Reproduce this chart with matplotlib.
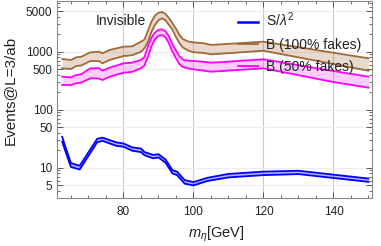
import matplotlib
matplotlib.use("Agg")
import matplotlib.pyplot as plt
from matplotlib.ticker import FixedLocator, NullFormatter, MultipleLocator
from matplotlib.lines import Line2D

plt.rcParams['font.family'] = ['Liberation Sans', 'DejaVu Sans']
plt.rcParams['mathtext.fontset'] = 'custom'
plt.rcParams['mathtext.rm'] = 'Liberation Sans'
plt.rcParams['mathtext.it'] = 'Liberation Sans:italic'

# ---- data ----
sig_x = [62.5, 63.2, 65, 67.5, 72.5, 74, 78, 80, 82.5, 85, 86, 88.5, 90, 92, 94, 95.3,
         97.5, 100, 104, 110, 120, 130, 150]
sig_hi = [34, 25, 12.0, 10.8, 31.5, 33, 27.3, 26.2, 22.4, 21.4, 18.6, 16.6, 17.1, 13.9, 9.05, 8.55,
          6.1, 5.65, 6.7, 7.8, 8.55, 8.85, 6.5]
sig_lo = [28, 21, 10.3, 9.3, 27.5, 29, 23.8, 23.0, 19.6, 18.6, 16.4, 14.5, 15.0, 12.2, 7.95, 7.45,
          5.3, 4.95, 5.9, 6.8, 7.45, 7.75, 5.7]

bkg_x = [62.5, 65, 66.5, 68, 70.5, 73, 74, 76, 80, 82.5, 85, 86, 87, 88, 89, 90, 91, 92, 93,
         94, 95, 96, 97, 98.5, 100, 103, 105, 120, 140, 150]
b100_hi = [750, 720, 800, 820, 975, 1000, 940, 1070, 1220, 1240, 1490, 1620, 2300, 3300, 4200,
           4700, 4850, 4500, 3800, 3100, 2500, 1950, 1650, 1500, 1450, 1400, 1310, 1490, 960, 770]
b100_lo = [518, 504, 566, 580, 692, 690, 631, 720, 843, 870, 1000, 1150, 1500, 2200, 2900,
           3500, 3770, 3500, 2900, 2400, 1800, 1400, 1180, 1050, 980, 950, 900, 1040, 614, 470]
b50_hi = [371, 362, 396, 410, 518, 520, 470, 530, 631, 650, 720, 810, 1250, 1750, 2150,
          2380, 2430, 2250, 1850, 1330, 1050, 830, 730, 700, 692, 673, 646, 740, 465, 371]
b50_lo = [267, 267, 285, 295, 348, 345, 325, 370, 434, 450, 518, 580, 820, 1250, 1650,
          1880, 1940, 1780, 1400, 1000, 770, 610, 545, 515, 498, 470, 452, 518, 300, 240]

x_ticks = [80, 100, 120, 140]
y_ticks = [5, 10, 50, 100, 500, 1000, 5000]
y_ticklabels = ['5', '10', '50', '100', '500', '1000', '5000']

labels = [r'S/$\lambda^2$', 'B (100% fakes)', 'B (50% fakes)']

# ---- style ----
brown = '#A0693A'
magenta = '#FF00FF'
blue = '#0000FF'

fig = plt.figure(figsize=(3.81, 2.46), dpi=100)
ax = fig.add_axes([57.3 / 381, 1 - 198 / 246, (372 - 57.3) / 381, 197 / 246])

ax.set_yscale('log')
ax.set_xlim(61.1, 151.0)
ax.set_ylim(3.0, 7500)

# grid
for v in x_ticks:
    ax.axvline(v, color='#CACACA', lw=0.8, zorder=0)
for v in y_ticks:
    ax.axhline(v, color='#EDEDED', lw=0.8, zorder=0)

ax.fill_between(bkg_x, b100_lo, b100_hi, color=brown, alpha=0.25, lw=0, zorder=1)
ax.plot(bkg_x, b100_hi, color=brown, lw=1.3, zorder=2)
ax.plot(bkg_x, b100_lo, color=brown, lw=1.3, zorder=2)

ax.fill_between(bkg_x, b50_lo, b50_hi, color=magenta, alpha=0.2, lw=0, zorder=1)
ax.plot(bkg_x, b50_hi, color=magenta, lw=1.3, zorder=2)
ax.plot(bkg_x, b50_lo, color=magenta, lw=1.3, zorder=2)

ax.fill_between(sig_x, sig_lo, sig_hi, color=blue, alpha=0.3, lw=0, zorder=1)
ax.plot(sig_x, sig_hi, color=blue, lw=1.3, zorder=2)
ax.plot(sig_x, sig_lo, color=blue, lw=1.3, zorder=2)

# ticks
ax.xaxis.set_major_locator(FixedLocator(x_ticks))
ax.xaxis.set_minor_locator(MultipleLocator(5))
ax.yaxis.set_major_locator(FixedLocator(y_ticks))
ax.set_yticklabels(y_ticklabels)
ax.yaxis.set_minor_formatter(NullFormatter())
ax.tick_params(which='both', direction='in', top=True, right=True,
               colors='#555555', labelcolor='#222222', labelsize=8.5)
ax.tick_params(which='major', length=4, width=0.7)
ax.tick_params(which='minor', length=2.2, width=0.6)
ax.tick_params(axis='x', which='major', pad=6)
for s in ax.spines.values():
    s.set_color('#888888')
    s.set_linewidth(0.8)

ax.set_xlabel(r'$m_\eta$[GeV]', fontsize=10.5, color='#222222')
ax.xaxis.set_label_coords((216 - 57.3) / 314.7, -(225 - 198) / 197)
ax.set_ylabel('Events@L=3/ab', fontsize=11, color='#222222')
ax.yaxis.set_label_coords((17 - 57.3) / 314.7, 1 - (90 - 1) / 197)

ax.text(0.2025, 0.898, 'Invisible', transform=ax.transAxes, ha='center', va='center',
        fontsize=10, color='#222222')

handles = [Line2D([], [], color=blue, lw=1.8),
           Line2D([], [], color=brown, lw=1.3),
           Line2D([], [], color=magenta, lw=1.3)]
leg = ax.legend(handles, labels, loc='upper left', bbox_to_anchor=(0.574, 0.95),
                frameon=False, fontsize=10, handlelength=1.45, handletextpad=0.6,
                labelspacing=0.6, borderpad=0, borderaxespad=0)
leg.set_zorder(5)
for t in leg.get_texts():
    t.set_color('#222222')

fig.savefig('out.png', dpi=100)
